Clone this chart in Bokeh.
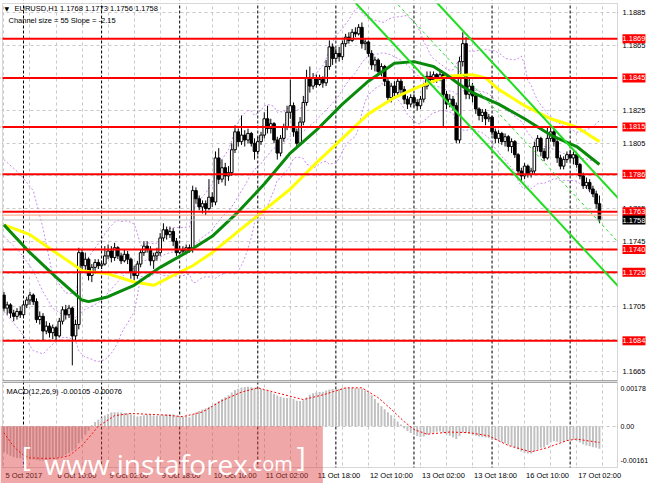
import numpy as np
import pandas as pd
from bokeh.plotting import figure
from bokeh.layouts import column
from bokeh.models import (Range1d, FixedTicker, Span, Slope, Label, BoxAnnotation,
                          ColumnDataSource)
from bokeh.embed import file_html
from bokeh.resources import INLINE

FONT = "Liberation Sans"

# ---------------- data (EURUSD H1) ----------------
first_open = 1.1712
closes = [
    1.1704, 1.1706, 1.1701, 1.1699, 1.1702, 1.1700, 1.1706, 1.1709, 1.1712, 1.1708,
    1.1697, 1.1699, 1.1690, 1.1693, 1.1689, 1.1692, 1.1687, 1.1696, 1.1703, 1.1700,
    1.1704, 1.1687, 1.1694, 1.1738, 1.1730, 1.1734, 1.1724, 1.1729, 1.1732, 1.1730,
    1.1731, 1.1736, 1.1739, 1.1735, 1.1741, 1.1736, 1.1733, 1.1737, 1.1734, 1.1726,
    1.1724, 1.1731, 1.1738, 1.1742, 1.1740, 1.1733, 1.1736, 1.1738, 1.1747, 1.1752,
    1.1749, 1.1751, 1.1745, 1.1738, 1.1740, 1.1739, 1.1741, 1.1740, 1.1776, 1.1771,
    1.1766, 1.1768, 1.1765, 1.1772, 1.1769, 1.1796, 1.1783, 1.1790, 1.1785, 1.1787,
    1.1801, 1.1812, 1.1806, 1.1810, 1.1807, 1.1811, 1.1805, 1.1800, 1.1806, 1.1810,
    1.1820, 1.1814, 1.1817, 1.1807, 1.1799, 1.1808, 1.1815, 1.1824, 1.1828, 1.1812,
    1.1805, 1.1818, 1.1830, 1.1845, 1.1840, 1.1845, 1.1841, 1.1844, 1.1842, 1.1852,
    1.1864, 1.1857, 1.1860, 1.1858, 1.1866, 1.1870, 1.1868, 1.1873, 1.1872, 1.1876,
    1.1866, 1.1867, 1.1860, 1.1853, 1.1856, 1.1849, 1.1852, 1.1843, 1.1833, 1.1840,
    1.1836, 1.1843, 1.1838, 1.1832, 1.1829, 1.1833, 1.1830, 1.1828, 1.1832, 1.1840,
    1.1846, 1.1844, 1.1847, 1.1845, 1.1847, 1.1835, 1.1829, 1.1832, 1.1828, 1.1807,
    1.1855, 1.1866, 1.1835, 1.1840, 1.1834, 1.1826, 1.1822, 1.1824, 1.1820, 1.1821,
    1.1812, 1.1808, 1.1811, 1.1806, 1.1809, 1.1803, 1.1806, 1.1798, 1.1788, 1.1785,
    1.1791, 1.1786, 1.1788, 1.1803, 1.1808, 1.1800, 1.1796, 1.1808, 1.1812, 1.1806,
    1.1796, 1.1791, 1.1795, 1.1798, 1.1796, 1.1798, 1.1792, 1.1785, 1.1779, 1.1781,
    1.1777, 1.1774, 1.1768, 1.1758]
highs = [
    1.1714, 1.1708, 1.1707, 1.1703, 1.1704, 1.1705, 1.1708, 1.1711, 1.1714, 1.1713,
    1.1710, 1.1702, 1.1701, 1.1696, 1.1695, 1.1694, 1.1693, 1.1698, 1.1705, 1.1706,
    1.1706, 1.1705, 1.1697, 1.1741, 1.1740, 1.1738, 1.1735, 1.1731, 1.1734, 1.1734,
    1.1733, 1.1742, 1.1743, 1.1742, 1.1744, 1.1742, 1.1738, 1.1740, 1.1739, 1.1735,
    1.1730, 1.1733, 1.1740, 1.1745, 1.1745, 1.1742, 1.1738, 1.1741, 1.1750, 1.1756,
    1.1754, 1.1754, 1.1753, 1.1747, 1.1742, 1.1742, 1.1743, 1.1743, 1.1779, 1.1778,
    1.1773, 1.1770, 1.1770, 1.1783, 1.1775, 1.1800, 1.1802, 1.1795, 1.1793, 1.1791,
    1.1805, 1.1816, 1.1814, 1.1822, 1.1813, 1.1814, 1.1812, 1.1808, 1.1809, 1.1812,
    1.1824, 1.1828, 1.1820, 1.1818, 1.1809, 1.1810, 1.1817, 1.1828, 1.1844, 1.1830,
    1.1814, 1.1821, 1.1834, 1.1850, 1.1852, 1.1848, 1.1847, 1.1847, 1.1846, 1.1856,
    1.1868, 1.1866, 1.1863, 1.1864, 1.1868, 1.1872, 1.1873, 1.1875, 1.1876, 1.1878,
    1.1879, 1.1869, 1.1868, 1.1862, 1.1858, 1.1857, 1.1854, 1.1853, 1.1845, 1.1842,
    1.1843, 1.1845, 1.1845, 1.1840, 1.1834, 1.1835, 1.1835, 1.1832, 1.1834, 1.1842,
    1.1849, 1.1849, 1.1849, 1.1848, 1.1849, 1.1848, 1.1837, 1.1835, 1.1834, 1.1830,
    1.1858, 1.1873, 1.1870, 1.1845, 1.1842, 1.1836, 1.1827, 1.1826, 1.1826, 1.1823,
    1.1822, 1.1814, 1.1813, 1.1812, 1.1811, 1.1810, 1.1808, 1.1807, 1.1799, 1.1790,
    1.1793, 1.1792, 1.1790, 1.1806, 1.1810, 1.1809, 1.1802, 1.1815, 1.1816, 1.1814,
    1.1808, 1.1798, 1.1797, 1.1800, 1.1801, 1.1800, 1.1799, 1.1793, 1.1787, 1.1784,
    1.1783, 1.1779, 1.1776, 1.1773]
lows = [
    1.1702, 1.1700, 1.1698, 1.1696, 1.1697, 1.1698, 1.1699, 1.1704, 1.1706, 1.1706,
    1.1695, 1.1694, 1.1684, 1.1688, 1.1686, 1.1685, 1.1684, 1.1686, 1.1694, 1.1697,
    1.1698, 1.1669, 1.1684, 1.1691, 1.1726, 1.1727, 1.1721, 1.1720, 1.1725, 1.1728,
    1.1728, 1.1730, 1.1734, 1.1732, 1.1733, 1.1734, 1.1731, 1.1732, 1.1731, 1.1722,
    1.1721, 1.1722, 1.1729, 1.1736, 1.1738, 1.1730, 1.1728, 1.1733, 1.1736, 1.1745,
    1.1746, 1.1747, 1.1742, 1.1736, 1.1737, 1.1737, 1.1738, 1.1738, 1.1738, 1.1768,
    1.1764, 1.1762, 1.1761, 1.1764, 1.1766, 1.1767, 1.1780, 1.1781, 1.1779, 1.1782,
    1.1785, 1.1799, 1.1803, 1.1804, 1.1803, 1.1805, 1.1803, 1.1795, 1.1798, 1.1804,
    1.1808, 1.1811, 1.1811, 1.1805, 1.1795, 1.1797, 1.1806, 1.1813, 1.1820, 1.1809,
    1.1803, 1.1804, 1.1816, 1.1828, 1.1836, 1.1838, 1.1839, 1.1840, 1.1839, 1.1840,
    1.1850, 1.1853, 1.1855, 1.1855, 1.1856, 1.1864, 1.1866, 1.1867, 1.1870, 1.1871,
    1.1863, 1.1862, 1.1858, 1.1850, 1.1849, 1.1847, 1.1846, 1.1840, 1.1830, 1.1830,
    1.1833, 1.1834, 1.1835, 1.1829, 1.1826, 1.1827, 1.1827, 1.1825, 1.1826, 1.1830,
    1.1838, 1.1841, 1.1842, 1.1842, 1.1843, 1.1815, 1.1826, 1.1827, 1.1825, 1.1805,
    1.1805, 1.1852, 1.1832, 1.1832, 1.1830, 1.1823, 1.1819, 1.1818, 1.1816, 1.1818,
    1.1810, 1.1805, 1.1805, 1.1804, 1.1803, 1.1800, 1.1799, 1.1796, 1.1786, 1.1782,
    1.1783, 1.1784, 1.1784, 1.1786, 1.1800, 1.1797, 1.1794, 1.1795, 1.1806, 1.1803,
    1.1793, 1.1789, 1.1789, 1.1793, 1.1794, 1.1792, 1.1790, 1.1783, 1.1777, 1.1777,
    1.1775, 1.1772, 1.1765, 1.1756]

# moving averages (bar index : value)
green_ma_bars = [0, 8, 16, 24, 26, 32, 40, 48, 56, 64, 72, 80, 88, 96, 104, 112,
                 120, 126, 132, 136, 140, 144, 152, 160, 168, 176, 183]
green_ma_vals = [1.1755, 1.1738, 1.1723, 1.1709, 1.1708, 1.1711, 1.1718, 1.1729,
                 1.1738, 1.1748, 1.1763, 1.1780, 1.1799, 1.1813, 1.1829, 1.1843,
                 1.1854, 1.1855, 1.1852, 1.1847, 1.1841, 1.1836, 1.1829, 1.1820,
                 1.1810, 1.1803, 1.1792]
yellow_ma_bars = [0, 8, 16, 24, 32, 40, 46, 52, 58, 64, 72, 80, 88, 96, 104, 112,
                  120, 128, 136, 144, 148, 152, 160, 168, 176, 183]
yellow_ma_vals = [1.1755, 1.1749, 1.1738, 1.1727, 1.1725, 1.1720, 1.1718, 1.1724,
                  1.1730, 1.1738, 1.1751, 1.1764, 1.1777, 1.1793, 1.1808, 1.1823,
                  1.1833, 1.1840, 1.1846, 1.1847, 1.1845, 1.1838, 1.1828, 1.1820,
                  1.1815, 1.1806]
# Bollinger bands for the first bars (before 20 closes are on screen)
bb_head_bars = [0, 5, 9, 12, 15, 18]
bb_head_upper = [1.1795, 1.1786, 1.1776, 1.1753, 1.1724, 1.1716]
bb_head_mid = [1.1748, 1.1738, 1.1727, 1.1714, 1.1704, 1.1700]
bb_head_lower = [1.1702, 1.1690, 1.1678, 1.1676, 1.1682, 1.1686]

# regression channel (55 bars, slope -2.15 pips per bar)
channel_slope = -0.000215
channel_lower_at0 = 1.21233
channel_upper_at0 = 1.21772

levels = [1.1869, 1.1845, 1.1815, 1.1786, 1.1763, 1.1740, 1.1726, 1.1684]
level_minor = 1.1761
bid_price = 1.1758

macd_main = [
    -0.00120, -0.00130, -0.00138, -0.00144, -0.00148, -0.00150, -0.00152, -0.00155, -0.00156, -0.00156,
    -0.00158, -0.00160, -0.00160, -0.00158, -0.00156, -0.00152, -0.00150, -0.00146, -0.00140, -0.00133,
    -0.00125, -0.00115, -0.00105, -0.00080, -0.00060, -0.00040, -0.00020, 0.00005, 0.00020, 0.00030,
    0.00040, 0.00050, 0.00058, 0.00064, 0.00066, 0.00066, 0.00064, 0.00062, 0.00060, 0.00056,
    0.00050, 0.00046, 0.00048, 0.00052, 0.00055, 0.00053, 0.00050, 0.00049, 0.00051, 0.00054,
    0.00056, 0.00057, 0.00055, 0.00050, 0.00046, 0.00044, 0.00043, 0.00042, 0.00055, 0.00065,
    0.00072, 0.00078, 0.00083, 0.00090, 0.00095, 0.00108, 0.00118, 0.00128, 0.00136, 0.00145,
    0.00158, 0.00170, 0.00176, 0.00182, 0.00184, 0.00185, 0.00183, 0.00180, 0.00176, 0.00174,
    0.00170, 0.00166, 0.00160, 0.00152, 0.00144, 0.00138, 0.00134, 0.00132, 0.00133, 0.00128,
    0.00120, 0.00118, 0.00122, 0.00135, 0.00148, 0.00155, 0.00158, 0.00160, 0.00162, 0.00168,
    0.00172, 0.00174, 0.00175, 0.00176, 0.00178, 0.00180, 0.00180, 0.00180, 0.00178, 0.00178,
    0.00176, 0.00168, 0.00158, 0.00145, 0.00128, 0.00110, 0.00094, 0.00080, 0.00066, 0.00052,
    0.00036, 0.00022, 0.00008, -0.00010, -0.00022, -0.00032, -0.00040, -0.00046, -0.00050, -0.00048,
    -0.00040, -0.00034, -0.00030, -0.00026, -0.00024, -0.00030, -0.00038, -0.00044, -0.00052, -0.00060,
    -0.00045, -0.00030, -0.00032, -0.00036, -0.00040, -0.00044, -0.00048, -0.00050, -0.00052, -0.00054,
    -0.00060, -0.00064, -0.00068, -0.00074, -0.00080, -0.00086, -0.00092, -0.00098, -0.00108, -0.00118,
    -0.00124, -0.00128, -0.00128, -0.00118, -0.00108, -0.00100, -0.00098, -0.00088, -0.00076, -0.00070,
    -0.00072, -0.00074, -0.00072, -0.00068, -0.00066, -0.00064, -0.00068, -0.00076, -0.00084, -0.00090,
    -0.00094, -0.00098, -0.00100, -0.00105]
signal_bars = [0, 2, 4, 6, 8, 12, 16, 20, 24, 29, 34, 39, 49, 55, 61, 67, 73, 78, 84, 92,
               98, 105, 110, 115, 119, 123, 126, 130, 137, 143, 149, 155, 162, 167, 173, 176, 183]
signal_vals = [-0.00030, -0.00075, -0.00110, -0.00135, -0.00148, -0.00150, -0.00150, -0.00138,
               -0.00090, 0.00000, 0.00050, 0.00060, 0.00053, 0.00045, 0.00067, 0.00120,
               0.00160, 0.00180, 0.00156, 0.00125, 0.00147, 0.00180, 0.00180, 0.00134,
               0.00080, 0.00022, -0.00015, -0.00037, -0.00027, -0.00030, -0.00045, -0.00090,
               -0.00120, -0.00100, -0.00067, -0.00060, -0.00076]

x_labels = ["5 Oct 2017", "6 Oct 10:00", "9 Oct 02:00", "9 Oct 18:00", "10 Oct 10:00",
            "11 Oct 02:00", "11 Oct 18:00", "12 Oct 10:00", "13 Oct 02:00", "13 Oct 18:00",
            "16 Oct 10:00", "17 Oct 02:00"]
x_label_bars = [0, 16, 32, 48, 64, 80, 96, 112, 128, 144, 160, 176]
day_start_bars = [6, 30, 54, 78, 102, 126, 150, 174]
price_ticks = [1.1665, 1.1685, 1.1705, 1.1725, 1.1745, 1.1765, 1.1785, 1.1805,
               1.1825, 1.1845, 1.1865, 1.1885]
macd_ticks = [0.00178, 0.0, -0.00161]
macd_tick_labels = ["0.00178", "0.00", "-0.00161"]

title_text = "EURUSD,H1  1.1768 1.1773 1.1756 1.1758"
channel_text = "Channel size = 55 Slope = -2.15"
macd_text = "MACD(12,26,9) -0.00105 -0.00076"

# ---------------- layout constants (pixels of the canvas) ----------------
W = 649
X_START, X_AXIS = -0.45, 188.55      # plot area in bar units
PLOT_W = 615                          # plot area width in px, starting at px 2
PXB = PLOT_W / (X_AXIS - X_START)     # px per bar
XF0 = X_START - 2 / PXB
XF1 = XF0 + W / PXB

MAIN_H, MAIN_TOP, MAIN_BOT = 381, 3, 1      # canvas height, plot insets
MAIN_Y = (1.16597, 1.18906)
MPPU = (MAIN_H - MAIN_TOP - MAIN_BOT) / (MAIN_Y[1] - MAIN_Y[0])
MAIN_YF = (MAIN_Y[0] - MAIN_BOT / MPPU, MAIN_Y[1] + MAIN_TOP / MPPU)

MACD_H, MACD_TOP, MACD_BOT = 102, 1, 16
MACD_Y = (-0.00193, 0.00205)
DPPU = (MACD_H - MACD_TOP - MACD_BOT) / (MACD_Y[1] - MACD_Y[0])
MACD_YF = (MACD_Y[0] - MACD_BOT / DPPU, MACD_Y[1] + MACD_TOP / DPPU)

SMALL = "7.5px"
GRID = "#C8C8C8"
BORDER = "#7A7A7A"

n = min(len(closes), len(highs), len(lows))
opens = [first_open] + closes[:n - 1]
idx = list(range(n))
body_top = [max(o, c) for o, c in zip(opens, closes[:n])]
body_bot = [min(o, c) for o, c in zip(opens, closes[:n])]
up = [c >= o for o, c in zip(opens, closes[:n])]
src_up = ColumnDataSource(dict(x=[i for i in idx if up[i]],
                               top=[body_top[i] for i in idx if up[i]],
                               bottom=[body_bot[i] for i in idx if up[i]]))
src_dn = ColumnDataSource(dict(x=[i for i in idx if not up[i]],
                               top=[body_top[i] for i in idx if not up[i]],
                               bottom=[body_bot[i] for i in idx if not up[i]]))
src_wick = ColumnDataSource(dict(x=idx, lo=lows[:n], hi=highs[:n]))

# Bollinger (20, 2) from the closes, head
s = pd.Series(closes[:n])
mid = s.rolling(20).mean()
sd = s.rolling(20).std(ddof=0)
bb_x = bb_head_bars + list(range(19, n))
bb_up = bb_head_upper + list((mid + 2 * sd)[19:])
bb_mid = bb_head_mid + list(mid[19:])
bb_lo = bb_head_lower + list((mid - 2 * sd)[19:])


def make_fig(height, yr):
    f = figure(width=W, height=height, x_range=Range1d(XF0, XF1), y_range=Range1d(*yr),
               output_backend="svg", toolbar_location=None, min_border=0,
               x_axis_location=None, y_axis_location=None)
    f.background_fill_color = "white"
    f.border_fill_color = "white"
    f.outline_line_color = None
    f.xgrid.ticker = FixedTicker(ticks=list(range(0, 189, 8)))
    f.xgrid.grid_line_color = GRID
    f.xgrid.grid_line_dash = "3 3"
    f.ygrid.grid_line_color = GRID
    f.ygrid.grid_line_dash = "3 3"
    for b in day_start_bars:
        f.add_layout(Span(location=b, dimension="height", line_color="black",
                          line_width=1, line_dash="3 2", level="underlay"))
    return f


def label(f, x, y, text, size=SMALL, color="black", align="left", baseline="middle",
          font=FONT, xo=0, yo=0, bg=None, pad=0):
    f.add_layout(Label(x=x, y=y, text=text, text_font=font, text_font_size=size,
                       text_color=color, text_align=align, text_baseline=baseline,
                       x_offset=xo, y_offset=yo, background_fill_color=bg, padding=pad))


def frame_masks(f, yr):
    # white outside the plot area, then its gray border
    for kw in (dict(left=X_AXIS), dict(right=X_START), dict(bottom=yr[1]), dict(top=yr[0])):
        f.add_layout(BoxAnnotation(fill_color="white", fill_alpha=1.0, line_color=None, **kw))
    f.add_layout(BoxAnnotation(left=X_START, right=X_AXIS, bottom=yr[0], top=yr[1],
                               fill_color=None, line_color=BORDER, line_width=1))


def right_axis(f, ticks, texts, size=SMALL, xo=5):
    f.segment(x0=[X_AXIS] * len(ticks), x1=[X_AXIS + 3 / PXB] * len(ticks),
              y0=ticks, y1=ticks, line_color="#555555", line_width=1)
    for t, s_ in zip(ticks, texts):
        label(f, X_AXIS, t, s_, size=size, xo=xo)


# ---------------- main price panel ----------------
p = make_fig(MAIN_H, MAIN_YF)
p.ygrid.ticker = FixedTicker(ticks=price_ticks)

for ys in (bb_up, bb_mid, bb_lo):
    p.line(bb_x, ys, line_color="#C88CEB", line_width=1, line_dash="2 2")

p.segment(x0="x", y0="lo", x1="x", y1="hi", source=src_wick, line_color="black", line_width=1)
p.vbar(x="x", top="top", bottom="bottom", width=0.8, source=src_dn,
       fill_color="black", line_color="black", line_width=1)
p.vbar(x="x", top="top", bottom="bottom", width=0.8, source=src_up,
       fill_color="white", line_color="black", line_width=1)

p.line(yellow_ma_bars, yellow_ma_vals, line_color="#FFFF00", line_width=3)
p.line(green_ma_bars, green_ma_vals, line_color="#0A8A0A", line_width=3)

p.add_layout(Span(location=bid_price, dimension="width", line_color="#BDBDBD", line_width=1))
p.add_layout(Span(location=level_minor, dimension="width", line_color="#FF9A7A", line_width=1))
for lv in levels:
    p.add_layout(Span(location=lv, dimension="width", line_color="#FF0000", line_width=2))

p.add_layout(Slope(gradient=channel_slope, y_intercept=channel_lower_at0,
                   line_color="#22DD22", line_width=2))
p.add_layout(Slope(gradient=channel_slope, y_intercept=channel_upper_at0,
                   line_color="#22DD22", line_width=2))
p.add_layout(Slope(gradient=channel_slope,
                   y_intercept=(channel_lower_at0 + channel_upper_at0) / 2,
                   line_color="#22DD22", line_width=1, line_dash="3 3"))

frame_masks(p, MAIN_Y)
# thick separator towards the MACD window (upper half)
p.add_layout(BoxAnnotation(left=X_START, right=X_AXIS, top=MAIN_Y[0],
                           fill_color=BORDER, fill_alpha=1.0, line_color=None))
right_axis(p, price_ticks, [f"{t:.4f}" for t in price_ticks])
for lv in levels:
    label(p, X_AXIS, lv, f"{lv:.4f}", color="white", xo=5, bg="#FF0000", pad=(0, 2))
label(p, X_AXIS, bid_price, f"{bid_price:.4f}", color="white", xo=5, bg="black", pad=(0, 2))

label(p, X_START, MAIN_Y[1], "\u25BC", size="6px", font="DejaVu Sans", xo=2, yo=-5)
label(p, X_START, MAIN_Y[1], title_text, xo=12, yo=-5)
label(p, X_START, MAIN_Y[1], channel_text, xo=6, yo=-16.5)

# ---------------- MACD panel ----------------
m = make_fig(MACD_H, MACD_YF)
m.ygrid.ticker = FixedTicker(ticks=[0.0])

m.vbar(x=list(range(len(macd_main))), top=macd_main, bottom=0, width=0.6,
       fill_color="#C0C0C0", line_color=None)
m.line(signal_bars, signal_vals, line_color="#FF0000", line_width=1, line_dash="2 2")

frame_masks(m, MACD_Y)
# thick separator (lower half)
m.add_layout(BoxAnnotation(left=X_START, right=X_AXIS, bottom=MACD_Y[1],
                           fill_color=BORDER, fill_alpha=1.0, line_color=None))
right_axis(m, macd_ticks, macd_tick_labels, size="7px", xo=3)
label(m, X_START, MACD_Y[1], macd_text, xo=4, yo=-9)

# time axis under the MACD panel: tick at the label start, label to its right
m.segment(x0=x_label_bars, x1=x_label_bars, y0=[MACD_Y[0]] * len(x_label_bars),
          y1=[MACD_Y[0] - 3 / DPPU] * len(x_label_bars), line_color="#555555", line_width=1)
for b, t in zip(x_label_bars, x_labels):
    label(m, b, MACD_Y[0], t, xo=1.5, yo=-7.5)

# watermark
m.add_layout(BoxAnnotation(right=98.0, top=0.0, fill_color="#DC3C3C", fill_alpha=0.45,
                           line_color=None))
label(m, 5.5, -0.00141, "[", size="28px", color="white", font="Open Sans")
label(m, 12.4, -0.00175, "www.instaforex", size="28px", color="white",
      font="Open Sans", baseline="alphabetic")
label(m, 74.8, -0.00175, ".com", size="20px", color="white",
      font="Open Sans", baseline="alphabetic")
label(m, 89.9, -0.00141, "]", size="28px", color="white", font="Open Sans")

layout = column(p, m, spacing=0)
open("out.html", "w").write(file_html(layout, INLINE))
